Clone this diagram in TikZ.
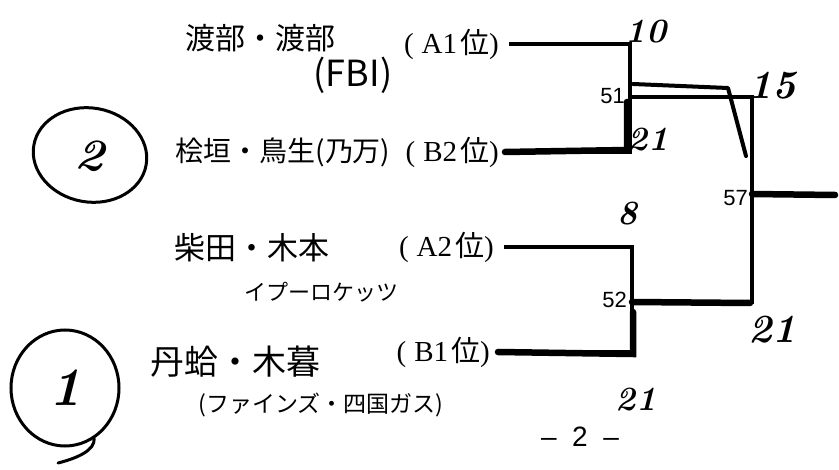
\documentclass[tikz,border=0pt]{standalone}
\usepackage{fontspec}
\usetikzlibrary{shapes.geometric}
\newfontfamily\cjk{Noto Sans CJK JP}
\newfontfamily\seedfont{Liberation Serif}
\setsansfont{Liberation Sans}
\newcommand{\seedlab}[1]{(\kern8pt #1\kern3pt{\cjk 位})}
\begin{document}
\begin{tikzpicture}[x=1pt,y=-1pt]
\tikzset{
  seed/.style={font=\seedfont\fontsize{29}{29}\selectfont, inner sep=0pt, anchor=east},
  hand/.style={font=\cjk\fontsize{30}{30}\selectfont, inner sep=0pt},
  bracket/.style={line width=4.5pt},
  win/.style={line width=6.5pt, line cap=round},
  hl/.style={line width=4pt, line join=round, line cap=round},
  num/.style={font=\sffamily\fontsize{22}{22}\selectfont, anchor=east, inner sep=1pt},
  score/.style={font=\bfseries\itshape\fontsize{34}{34}\selectfont, inner sep=0pt},
  bigscore/.style={font=\bfseries\itshape\fontsize{40}{40}\selectfont, inner sep=0pt},
  ring/.style={line width=3pt, line cap=round}
}
\useasboundingbox (0,0) rectangle (839,470);
\fill[white] (0,0) rectangle (839,470);

% seed labels
\node[seed] (a1) at (499,44) {\seedlab{A1}};
\node[seed] (b2) at (499,152) {\seedlab{B2}};
\node[seed] (a2) at (494,247) {\seedlab{A2}};
\node[seed] (b1) at (490,352) {\seedlab{B1}};

% handwritten team names
\node[hand] (t1) at (260,38) {渡部・渡部};
\node[hand, font=\cjk\fontsize{36}{36}\selectfont] (t1b) at (353,75) {(FBI)};
\node[hand, font=\cjk\fontsize{28}{28}\selectfont] (t2) at (283,152) {桧垣・鳥生(乃万)};
\node[hand, font=\cjk\fontsize{31}{31}\selectfont] (t3) at (252,248) {柴田・木本};
\node[hand, font=\cjk\fontsize{22}{22}\selectfont] (t3b) at (321,292) {イプーロケッツ};
\node[hand, font=\cjk\fontsize{34}{34}\selectfont] (t4) at (235,362) {丹蛤・木暮};
\node[hand, font=\cjk\fontsize{23}{23}\selectfont] (t4b) at (321,405) {(ファインズ・四国ガス)};

% circled ranks
\node[ring, draw, ellipse, minimum width=114pt, minimum height=94pt, inner sep=0pt, rotate=-10,
      font=\bfseries\itshape\fontsize{46}{46}\selectfont] (r2) at (90,155) {2};
\node[ring, draw, ellipse, minimum width=108pt, minimum height=116pt, inner sep=0pt,
      font=\bfseries\itshape\fontsize{54}{54}\selectfont] (r1) at (65,388) {1};
\draw[ring] (r1.-60) .. controls (95,450) and (78,458) .. (58,463);

% bracket points
\coordinate (m51) at (630,97);
\coordinate (m52) at (632,302);
\coordinate (m57) at (752,194);
\coordinate (out) at (837,194);

\draw[bracket] ([xshift=10pt]a1.east) -| (m51) |- ([xshift=6pt]b2.east);
\draw[bracket] ([xshift=10pt]a2.east) -| (m52) |- ([xshift=8pt]b1.east);
\draw[bracket] (m51) -| (m57) |- (m52);
\draw[bracket] (m57) -- (out);

% winner highlights
\draw[win] ([xshift=6pt]b2.east) -- (627,150) -- (627,102);
\draw[hl] (633,84) -- (728,88) -- (746,156);
\draw[win] (m52) -- (750,303);
\draw[win] ([xshift=8pt]b1.east) -- (633,354) -- (633,312);
\draw[win] (m57) -- (835,195);

% match numbers
\node[num] (n51) at (626,96) {51};
\node[num] (n52) at (628,300) {52};
\node[num] (n57) at (749,198) {57};

% scores
\node[score] (s10) at (646,32) {10};
\node[score] (s21a) at (648,140) {21};
\node[score] (s8) at (628,214) {8};
\node[bigscore] (s15) at (772,86) {15};
\node[bigscore] (s21b) at (772,330) {21};
\node[score] (s21c) at (636,400) {21};

% page number
\node[font=\sffamily\fontsize{28}{28}\selectfont] (pg) at (580,437) {–\ \ 2\ \ –};
\end{tikzpicture}
\end{document}
